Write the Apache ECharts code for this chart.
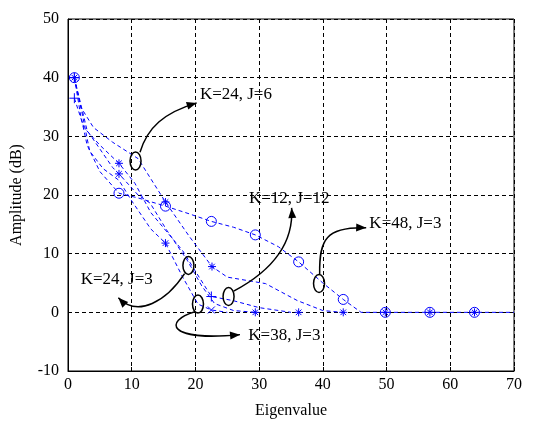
<!DOCTYPE html>
<html>
<head>
<meta charset="utf-8">
<script src="https://cdn.jsdelivr.net/npm/echarts@6/dist/echarts.min.js"></script>
<style>
  html, body { margin: 0; padding: 0; background: #fff; }
  #chart { width: 534px; height: 425px; }
</style>
</head>
<body>
<div id="chart"></div>
<script>
// curves, [eigenvalue, amplitude]
const curveK48J3 = [[1,40],[2,33.5],[3,28.5],[5,24],[8,20.3],[11,19.5],[15.3,18.1],[19,16.8],[22.5,15.5],[26,14.5],[29.4,13.2],[33,11.2],[36.2,8.6],[40,5],[43.2,2.2],[46,0],[70,0]]
const curveK24J6 = [[1,40],[2,35],[4,31.5],[7,29],[11,26.2],[15.3,18.8],[19,13],[22.6,7.8],[25,6],[31,4.9],[36,2],[40,0.3],[43,0]]
const curveK12J12 = [[1,36.5],[2.5,31.5],[5,28.5],[8,25.4],[10.5,22],[13,17],[15.3,14],[18,10.5],[20,7],[22.5,2.7],[25.9,2],[30,0.8],[35,0]]
const curveK24J3 = [[1,40],[3,31],[7,24.7],[8,23.6],[11,20],[12.9,18.6],[15.5,14],[18.7,8.9],[21,4.5],[23,1.5],[26,0.3],[29.4,0]]
const curveK38J3 = [[1,40],[2.2,34],[3.4,27.5],[5.5,24.5],[8,22.5],[10,19],[13,14.2],[15.3,11.8],[18,6],[20.4,1.4],[22.5,0.4],[25,0]]

// markers
const circlePts = [[1,40],[8,20.3],[15.3,18.1],[22.5,15.5],[29.4,13.2],[36.2,8.6],[43.2,2.2],[49.8,0],[56.8,0],[63.8,0]]
const starPts = [[1,40],[8,25.4],[8,23.6],[15.3,18.8],[15.3,11.8],[22.6,7.8],[29.4,0],[36.2,0],[43.2,0],[49.8,0],[56.8,0],[63.8,0]]
const plusPts = [[1,40],[1,36.5],[22.5,2.7]]
const crossPts = [[22.5,0.4]]

const xTicks = [0,10,20,30,40,50,60,70]
const yTicks = [-10,0,10,20,30,40,50]

// annotations: ellipse centre, bezier (start, c1, c2, end), text anchor
const notes = [
  {text:"K=24, J=6", ell:[10.6,25.8], path:[[11.3,27.3],[12.5,31.5],[15,34],[20.2,35.7]], at:[20.7,37.2]},
  {text:"K=12, J=12", ell:[25.2,2.7], path:[[26,3.6],[31,6.5],[35.5,11],[35.1,17.8]], at:[28.4,19.4]},
  {text:"K=48, J=3", ell:[39.4,4.9], path:[[39.5,6.5],[39.4,12.5],[40.5,14.6],[46.8,14.4]], at:[47.3,15.1]},
  {text:"K=24, J=3", ell:[18.9,8], path:[[18.3,6.6],[15.5,2],[11,-1],[7.9,2.5]], at:[2.0,5.6]},
  {text:"K=38, J=3", ell:[20.4,1.4], path:[[19.9,0.1],[15,-1.5],[15.5,-5],[27,-3.8]], at:[28.3,-4]}
]

const blue = "#0000ff"
const serif = "Liberation Serif"

function curve(name, data){
  return {
    name:name, type:"line", data:data, showSymbol:false, symbol:"none",
    lineStyle:{color:blue, width:1, type:[4,3]},
    z:3, silent:true
  }
}
function marks(data, symbol, size){
  return {
    type:"scatter", data:data, symbol:symbol, symbolSize:size,
    itemStyle:{color:"none", borderColor:blue, borderWidth:1, opacity:1},
    z:4, silent:true
  }
}

let myChart = echarts.init(document.getElementById("chart"))
myChart.setOption({
  animation:false,
  grid:{left:68, right:20, top:19, bottom:54, containLabel:false, outerBoundsMode:"none",
    show:true, borderColor:"#000", borderWidth:1},
  xAxis:{
    type:"value", min:0, max:70, interval:10,
    name:"Eigenvalue", nameLocation:"middle", nameGap:32,
    nameTextStyle:{fontFamily:serif, fontSize:16, color:"#000"},
    axisLine:{show:true, onZero:false, lineStyle:{color:"#000"}},
    axisTick:{show:true, inside:true, length:4, lineStyle:{color:"#000"}},
    axisLabel:{fontFamily:serif, fontSize:16, color:"#000", margin:6, customValues:xTicks},
    splitLine:{show:true, lineStyle:{color:"#000", type:[4,3], width:1}}
  },
  yAxis:{
    type:"value", min:-10, max:50, interval:10,
    name:"Amplitude (dB)", nameLocation:"middle", nameGap:43,
    nameTextStyle:{fontFamily:serif, fontSize:16, color:"#000"},
    axisLine:{show:true, lineStyle:{color:"#000"}},
    axisTick:{show:true, inside:true, length:4, lineStyle:{color:"#000"}},
    axisLabel:{fontFamily:serif, fontSize:16, color:"#000", margin:9, customValues:yTicks},
    splitLine:{show:true, lineStyle:{color:"#000", type:[4,3], width:1}}
  },
  series:[
    curve("K=48, J=3", curveK48J3),
    curve("K=24, J=6", curveK24J6),
    curve("K=12, J=12", curveK12J12),
    curve("K=24, J=3", curveK24J3),
    curve("K=38, J=3", curveK38J3),
    marks(circlePts, "circle", 10),
    marks(starPts, "path://M5,0L5,10M0,5L10,5M1.5,1.5L8.5,8.5M8.5,1.5L1.5,8.5", 8),
    marks(plusPts, "path://M5,0L5,10M0,5L10,5", 10),
    marks(crossPts, "path://M0,0L10,10M10,0L0,10", 7)
  ]
})

// annotations drawn in pixel space from the data positions
function px(p){ return myChart.convertToPixel({gridIndex:0}, p) }
let g = []
notes.forEach(function(n){
  let e = px(n.ell)
  g.push({type:"ellipse", shape:{cx:e[0], cy:e[1], rx:5.5, ry:9},
    style:{fill:"none", stroke:"#000", lineWidth:1.5}, z:10})
  let p = n.path.map(px)
  g.push({type:"bezierCurve", shape:{x1:p[0][0], y1:p[0][1], cpx1:p[1][0], cpy1:p[1][1],
    cpx2:p[2][0], cpy2:p[2][1], x2:p[3][0], y2:p[3][1]},
    style:{fill:"none", stroke:"#000", lineWidth:1.5}, z:10})
  // arrow head from the last tangent
  let dx = p[3][0]-p[2][0], dy = p[3][1]-p[2][1]
  let len = Math.sqrt(dx*dx+dy*dy)
  dx/=len; dy/=len
  let L = 10, W = 4
  let bx = p[3][0]-dx*L, by = p[3][1]-dy*L
  g.push({type:"polygon", shape:{points:[[p[3][0],p[3][1]],[bx-dy*W,by+dx*W],[bx+dy*W,by-dx*W]]},
    style:{fill:"#000"}, z:10})
  let t = px(n.at)
  g.push({type:"text", x:t[0], y:t[1], z:11,
    style:{text:n.text, fontFamily:serif, fontSize:17, fill:"#000", align:"left", verticalAlign:"middle"}})
})
myChart.setOption({graphic:g})
</script>
</body>
</html>
